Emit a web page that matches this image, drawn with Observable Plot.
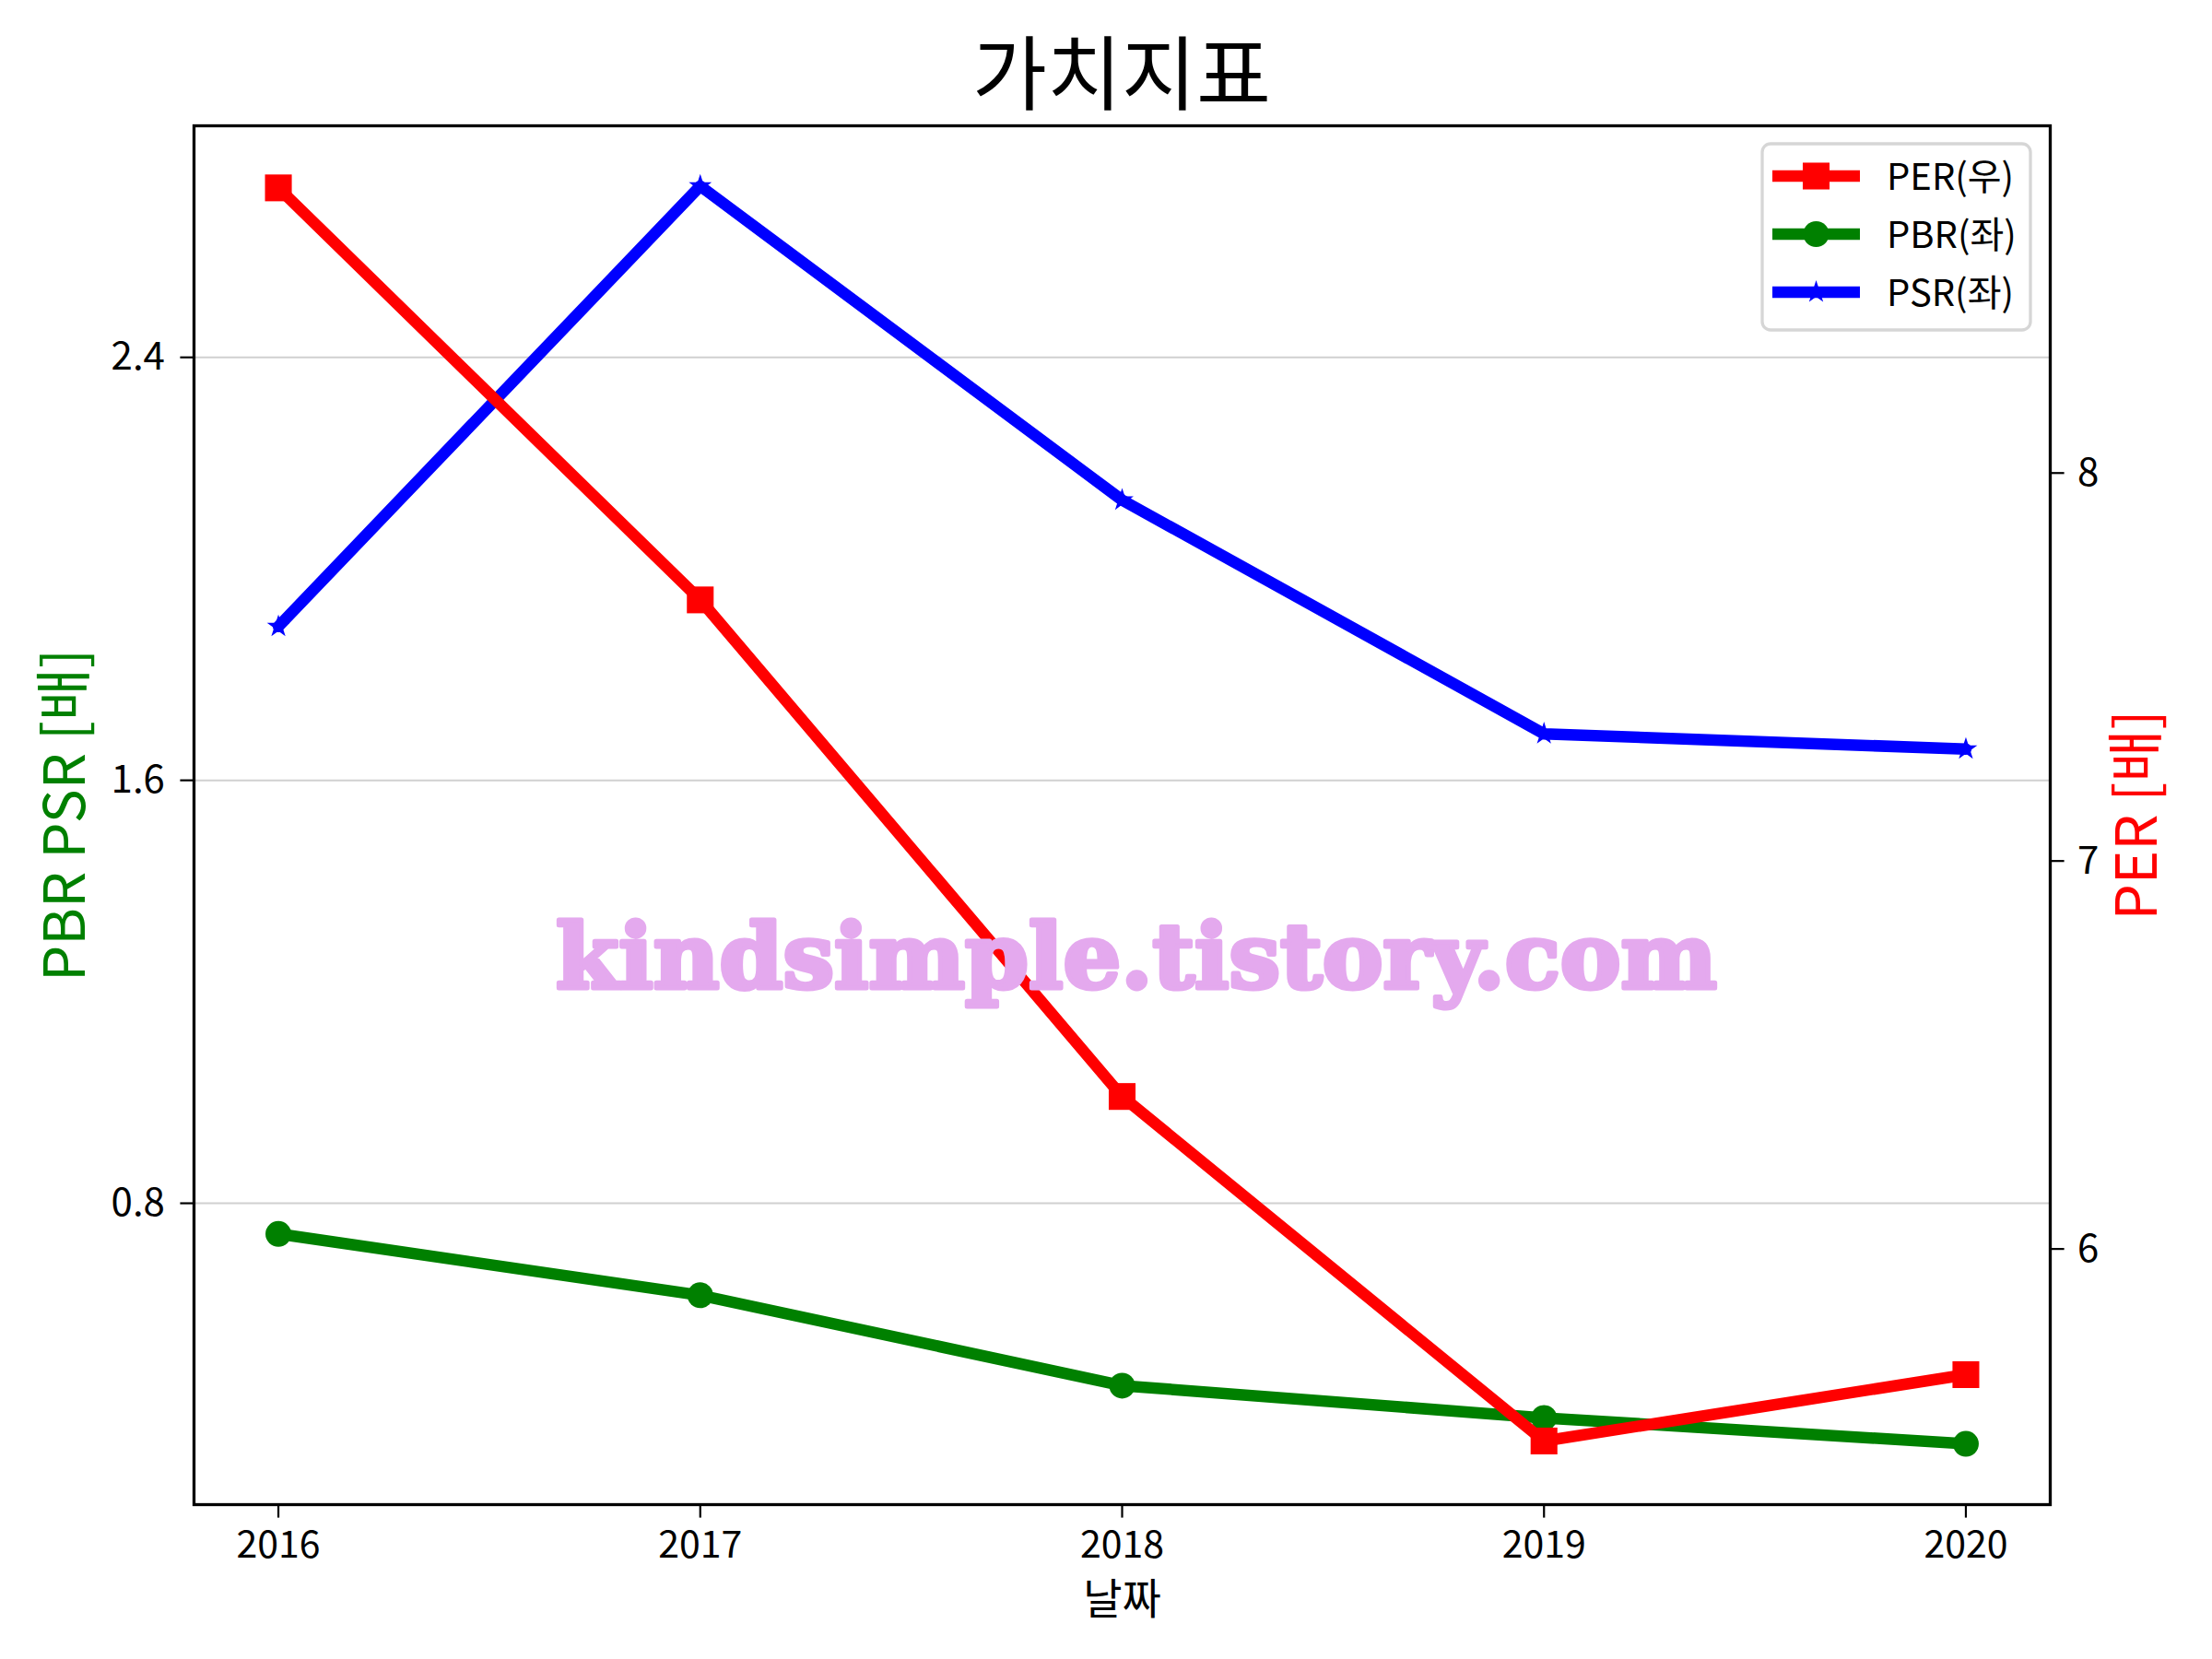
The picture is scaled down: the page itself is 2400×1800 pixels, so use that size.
<!DOCTYPE html>
<html>
<head>
<meta charset="utf-8">
<script src="https://cdn.jsdelivr.net/npm/d3@7"></script>
<script src="https://cdn.jsdelivr.net/npm/@observablehq/plot@0.6"></script>
<style>
  body { margin: 0; background: #fff; }
  #wrap { position: relative; width: 2400px; height: 1800px; font-family: "Noto Sans CJK KR", sans-serif; }
  #title { box-sizing: border-box; height: 110px; padding-top: 19px; line-height: 110px; margin-left: 210px; width: 2014px;
           text-align: center; font-size: 88px; color: #000; white-space: nowrap; }
  #overlay { position: absolute; left: 0; top: 0; pointer-events: none; }
</style>
</head>
<body>
<div id="wrap">
  <div id="title">가치지표</div>
  <div id="chart"></div>
</div>
<script>
// ---- data ----
const years = [2016, 2017, 2018, 2019, 2020];
const per = [8.735, 7.673, 6.393, 5.505, 5.676];   // right axis
const pbr = [0.742, 0.626, 0.455, 0.394, 0.345];   // left axis
const psr = [1.891, 2.724, 2.130, 1.688, 1.659];   // left axis
const leftTicks = [0.8, 1.6, 2.4];
const rightTicks = [6, 7, 8];
const xTicks = [2016, 2017, 2018, 2019, 2020];
const leftDomain = [0.230, 2.838];    // axis limits
const rightDomain = [5.341, 8.895];
const xDomain = [2015.8, 2020.2];
const seriesNames = ["PER(우)", "PBR(좌)", "PSR(좌)"];
const seriesColors = ["#ff0000", "#008000", "#0000ff"];
const seriesSymbols = ["square", "circle", "star"];
const titleText = "가치지표";
const xLabel = "날짜";
const yLeftLabel = "PBR PSR [배]";
const yRightLabel = "PER [배]";
const watermark = "kindsimple.tistory.com";

document.getElementById("title").textContent = titleText;

const [loL, hiL] = leftDomain;
const [loR, hiR] = rightDomain;
const toL = v => loL + (v - loR) * (hiL - loL) / (hiR - loR);
const fromL = v => loR + (v - loL) * (hiR - loR) / (hiL - loL);

const rows = (vals) => years.map((y, i) => ({x: y, y: vals[i]}));
const pbrRows = rows(pbr), psrRows = rows(psr), perRows = rows(per.map(toL));

const LW = 12.5;
const font = "'Noto Sans CJK KR', 'Noto Sans', sans-serif";

const chart = Plot.plot({
  width: 2400,
  height: 1690,
  marginTop: 26,
  marginBottom: 168,
  marginLeft: 210,
  marginRight: 176,
  style: {fontFamily: font, fontSize: "42px", background: "white", overflow: "visible", color: "black"},
  x: {domain: xDomain},
  y: {domain: leftDomain},
  marks: [
    Plot.gridY(leftTicks, {stroke: "#d0d0d0", strokeOpacity: 1, strokeWidth: 2}),
    Plot.line(pbrRows, {x: "x", y: "y", stroke: seriesColors[1], strokeWidth: LW, strokeLinejoin: "round"}),
    Plot.dot(pbrRows, {x: "x", y: "y", symbol: "circle", r: 14, fill: seriesColors[1], stroke: "none"}),
    Plot.line(psrRows, {x: "x", y: "y", stroke: seriesColors[2], strokeWidth: LW, strokeLinejoin: "round"}),
    Plot.dot(psrRows, {x: "x", y: "y", symbol: "star", r: 7.8, fill: seriesColors[2], stroke: "none"}),
    Plot.line(perRows, {x: "x", y: "y", stroke: seriesColors[0], strokeWidth: LW, strokeLinejoin: "round"}),
    Plot.dot(perRows, {x: "x", y: "y", symbol: "square", r: 16.4, fill: seriesColors[0], stroke: "none"}),
    Plot.frame({stroke: "black", strokeWidth: 3.3}),
    Plot.axisY(leftTicks, {anchor: "left", tickSize: 14.6, tickPadding: 17, strokeWidth: 2.2, fontSize: 42,
      tickFormat: d => d.toFixed(1), label: null}),
    Plot.axisY(rightTicks.map(toL), {anchor: "right", tickSize: 14.6, tickPadding: 15, strokeWidth: 2.2, fontSize: 42,
      tickFormat: d => String(Math.round(fromL(d))), label: null}),
    Plot.axisX(xTicks, {anchor: "bottom", tickSize: 14.6, tickPadding: 14, strokeWidth: 2.2, fontSize: 41,
      tickFormat: d => String(d), label: null}),
    Plot.text([yLeftLabel], {frameAnchor: "left", dx: -138, rotate: -90, textAnchor: "middle", lineAnchor: "middle",
      fill: seriesColors[1], fontSize: 62}),
    Plot.text([yRightLabel], {frameAnchor: "right", dx: 96, rotate: -90, textAnchor: "middle", lineAnchor: "middle",
      fill: seriesColors[0], fontSize: 62}),
    Plot.text([xLabel], {frameAnchor: "bottom", dy: 104, textAnchor: "middle", lineAnchor: "middle",
      fill: "black", fontSize: 46})
  ]
});
document.getElementById("chart").appendChild(chart);

// ---- overlay: legend + watermark ----
const ns = "http://www.w3.org/2000/svg";
const ov = d3.select("#wrap").append("svg").attr("id", "overlay").attr("xmlns", ns)
  .attr("width", 2400).attr("height", 1800);

// watermark
ov.append("text").text(watermark)
  .attr("x", 603).attr("y", 1072)
  .attr("font-family", "'DejaVu Serif', serif").attr("font-weight", "bold").attr("font-size", 98)
  .attr("fill", "#e4a9ee").attr("stroke", "#e4a9ee").attr("stroke-width", 5).attr("stroke-linejoin", "round")
  .attr("textLength", 1260).attr("lengthAdjust", "spacingAndGlyphs");

// legend
const lg = ov.append("g");
lg.append("rect").attr("x", 1912).attr("y", 156).attr("width", 291).attr("height", 202).attr("rx", 9)
  .attr("fill", "white").attr("fill-opacity", 0.8).attr("stroke", "#d6d6d6").attr("stroke-width", 3.3);
const symMap = {square: d3.symbolSquare, circle: d3.symbolCircle, star: d3.symbolStar};
const symR = {square: 16.4, circle: 14, star: 7.8};
seriesNames.forEach((name, i) => {
  const cy = 191 + 63 * i;
  lg.append("line").attr("x1", 1923).attr("x2", 2018).attr("y1", cy).attr("y2", cy)
    .attr("stroke", seriesColors[i]).attr("stroke-width", LW);
  const s = seriesSymbols[i];
  lg.append("path").attr("transform", `translate(1970.5,${cy})`)
    .attr("d", d3.symbol(symMap[s], Math.PI * symR[s] * symR[s])())
    .attr("fill", seriesColors[i]);
  lg.append("text").text(name).attr("x", 2047).attr("y", cy + 15)
    .attr("font-family", font).attr("font-size", 40).attr("fill", "black");
});
</script>
</body>
</html>
